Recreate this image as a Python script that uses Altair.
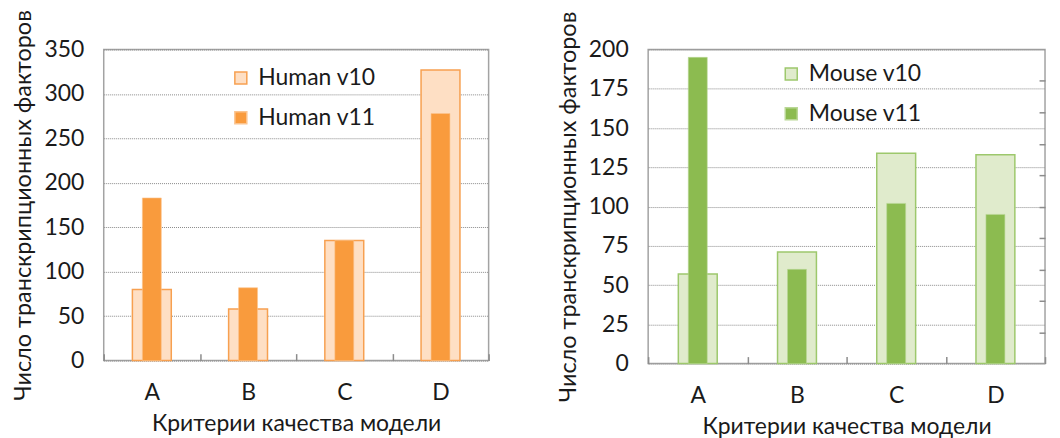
import altair as alt
import pandas as pd

criteria = ["A", "B", "C", "D"]
human_v10 = [80, 58, 135, 327]
human_v11 = [183, 82, 135, 278]
mouse_v10 = [57, 71, 134, 133]
mouse_v11 = [195, 60, 102, 95]

human_names = ["Human v10", "Human v11"]
mouse_names = ["Mouse v10", "Mouse v11"]

x_title = "Критерии качества модели"
y_title = "Число транскрипционных факторов"

FONT = "Lato"
TXT = "#1a1a1a"
FS = 23


def panel(v10, v11, names, fills, strokes, ymax, ystep, width, height,
          legx, legy, minor=None):
    rows = []
    for c, a, b in zip(criteria, v10, v11):
        rows.append({"crit": c, "series": names[0], "value": a})
        rows.append({"crit": c, "series": names[1], "value": b})
    df = pd.DataFrame(rows)

    xenc = alt.X(
        "crit:N",
        sort=criteria,
        scale=alt.Scale(paddingInner=0, paddingOuter=0),
        axis=alt.Axis(
            title=x_title, labelAngle=0, domain=False, grid=False,
            tickBand="extent", tickSize=7, tickWidth=1.5, tickColor="#8c8c8c",
            offset=-7, labelPadding=21, titlePadding=8,
            labelFontSize=FS, titleFontSize=FS, labelFont=FONT, titleFont=FONT,
            labelColor=TXT, titleColor=TXT, titleFontWeight="normal",
        ),
    )
    yscale = alt.Scale(domain=[0, ymax], nice=False)
    yenc = alt.Y(
        "value:Q",
        scale=yscale,
        axis=alt.Axis(
            title=y_title, values=list(range(0, ymax + 1, ystep)),
            ticks=False, domain=False, grid=True, gridColor="#8a8a8a",
            gridDash=[1, 1], gridWidth=1, labelPadding=20, titlePadding=8,
            labelFontSize=FS, titleFontSize=23.5, labelFont=FONT, titleFont=FONT,
            labelColor=TXT, titleColor=TXT, titleFontWeight="normal",
        ),
    )
    fill = alt.Fill(
        "series:N",
        scale=alt.Scale(domain=names, range=fills),
        legend=alt.Legend(
            title=None, orient="none", legendX=legx, legendY=legy,
            symbolType="square", symbolSize=144, symbolStrokeWidth=1.5,
            labelFontSize=FS, labelFont=FONT, labelColor=TXT, labelOffset=6,
            rowPadding=16, padding=0, labelLimit=300,
        ),
    )
    stroke = alt.Stroke(
        "series:N",
        scale=alt.Scale(domain=names, range=strokes),
        legend=None,
    )
    base = alt.Chart(df)
    l10 = base.transform_filter(alt.datum.series == names[0]).mark_bar(
        size=39, strokeWidth=1.5
    ).encode(x=xenc, y=yenc, fill=fill, stroke=stroke)
    l11 = base.transform_filter(alt.datum.series == names[1]).mark_bar(
        size=19, strokeWidth=1, strokeOpacity=0.6
    ).encode(x=xenc, y=yenc, fill=fill, stroke=stroke)
    inner = alt.layer(l10, l11)
    if minor is not None:
        lm = base.transform_filter(alt.datum.series == names[1]).mark_point(
            opacity=0
        ).encode(
            x=xenc,
            y=alt.Y("value:Q", scale=yscale, axis=alt.Axis(
                orient="right", title=None, labels=False, domain=False,
                grid=False, values=minor, tickSize=6, tickWidth=1.5,
                tickColor="#8c8c8c", offset=-6,
            )),
        )
        ch = alt.layer(inner, lm).resolve_scale(y="independent")
    else:
        ch = inner
    return ch.properties(width=width, height=height)


left = panel(human_v10, human_v11, human_names,
             ["#FEDFC4", "#F99B3D"], ["#F7A050", "#FBC48F"],
             350, 50, 386, 312, 126, 17)
right = panel(mouse_v10, mouse_v11, mouse_names,
              ["#E0EBCC", "#8CBB50"], ["#9DC86C", "#B9D795"],
              200, 25, 398, 315, 132, 13,
              minor=[20, 40, 60, 80, 100, 120, 140, 160, 180])

chart = alt.hconcat(left, right, spacing=65).resolve_scale(
    fill="independent", stroke="independent", y="independent"
).properties(
    padding={"left": 3, "top": 0, "right": 5, "bottom": 0}
).configure_view(stroke="#A3A3A3", strokeWidth=1.5)

chart.save("out.html", embed_options={"renderer": "svg", "actions": False})
